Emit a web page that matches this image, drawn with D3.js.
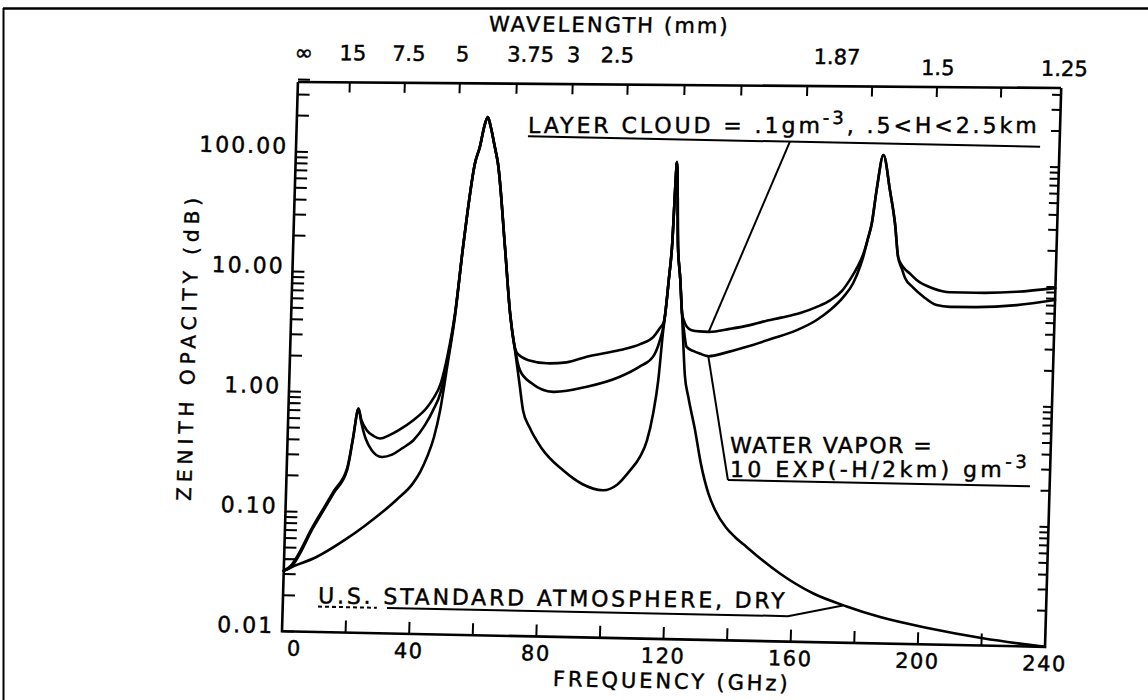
<!DOCTYPE html>
<html>
<head>
<meta charset="utf-8">
<script src="https://cdn.jsdelivr.net/npm/d3@7"></script>
<style>
  html, body { margin: 0; padding: 0; background: #fff; }
  svg { display: block; }
  text { font-family: "DejaVu Sans", sans-serif; fill: #000; stroke: #000; stroke-width: 0.45px; }
</style>
</head>
<body>
<script>
// ---------------- DATA ----------------
// Frequency axis ticks / labels (GHz)
const freqTickGHz = [20, 40, 60, 80, 100, 120, 140, 160, 180, 200, 220];
const freqLabelGHz = [0, 40, 80, 120, 160, 200, 240];

// Opacity axis labelled decades (dB)
const opacityLabelDb = [0.01, 0.1, 1, 10, 100];

// Top wavelength axis (labels and the hand-drawn tick positions, in GHz)
const wavelengthLabels = ["∞", "15", "7.5", "5", "3.75", "3", "2.5", "1.87", "1.5", "1.25"];
const wavelengthLabelGHz = [1.6, 17, 34.6, 51.5, 72.9, 86.4, 100.2, 169.3, 201.1, 240.9];
const wavelengthTickGHz = [16.3, 33.6, 50.9, 68.8, 86.4, 103.7, 121.6, 139.5, 160.2, 180.6, 201.0, 221.2];

// U.S. Standard Atmosphere, dry
const dryGHz = [0, 2, 10, 19.6, 25, 30, 35, 39.8, 42, 44, 46, 47.7, 49.5, 51.5, 53.4, 56.4, 57.8, 59, 60, 61, 62.5, 63.6, 66.6, 68.8, 71, 72.4, 73.75, 76, 80, 86.9, 93, 99.6, 104, 107.9, 111, 113, 114.7, 116, 117.1, 117.6, 118.4, 119.1, 119.9, 121.0, 122.0, 122.85, 123.5, 124.3, 125.6, 128, 130.2, 132.8, 135, 138.5, 141.5, 145.3, 150, 156, 166.7, 177.3, 187.9, 203.7, 220.4, 240];
const dryDb = [0.032, 0.034, 0.042, 0.061, 0.078, 0.1, 0.132, 0.18, 0.225, 0.3, 0.44, 0.74, 1.7, 4.5, 17, 86, 118, 175, 210, 175, 118, 87, 17.3, 4.9, 2.15, 1.27, 0.765, 0.55, 0.37, 0.245, 0.19, 0.17, 0.19, 0.25, 0.33, 0.45, 0.76, 1.44, 3.76, 5.2, 10, 18.6, 95, 18.6, 10, 5.25, 3.0, 1.6, 1.05, 0.56, 0.29, 0.166, 0.122, 0.088, 0.073, 0.0605, 0.048, 0.0368, 0.0254, 0.0201, 0.0166, 0.0136, 0.0115, 0.01];

// With water vapour = 10 exp(-H/2km) g m^-3
const vaporGHz = [0, 2, 9, 15, 19, 20.5, 22, 23, 24.5, 26.55, 29.75, 33, 36, 39.5, 43, 45.5, 47.7, 49.5, 51.5, 53.4, 56.4, 57.8, 59, 60, 61, 62.5, 63.6, 66.6, 68.8, 70.5, 72.4, 76, 83.1, 93.6, 103.9, 110, 114.1, 116, 117.2, 117.6, 118.4, 119.1, 119.9, 121.0, 122.0, 122.85, 123.6, 124.6, 126.7, 129, 131.5, 137, 143.5, 151, 159.1, 165, 169.4, 173.4, 176.4, 178.3, 179.3, 180.6, 181.7, 182.9, 184.7, 187.1, 189.0, 190.3, 191.5, 192.6, 195.2, 198.6, 202.8, 207, 215, 228, 240];
const vaporDb = [0.032, 0.034, 0.075, 0.145, 0.226, 0.40, 0.74, 0.57, 0.42, 0.335, 0.295, 0.31, 0.35, 0.41, 0.55, 0.74, 1.05, 1.9, 4.65, 17, 86, 118, 175, 210, 175, 118, 87, 17.3, 4.9, 2.6, 1.65, 1.3, 1.10, 1.23, 1.51, 1.85, 2.24, 3.0, 4.2, 5.2, 10, 18.6, 95, 18.6, 10, 5.25, 3.8, 2.75, 2.55, 2.42, 2.32, 2.5, 2.82, 3.3, 3.96, 4.8, 5.9, 7.6, 10.0, 13.5, 16.6, 23.5, 31.7, 60, 118, 60, 31.7, 16.6, 13.5, 11.3, 9.4, 7.9, 6.77, 6.57, 6.6, 6.97, 7.8];

// With layer cloud = .1 g m^-3, .5<H<2.5 km
const cloudGHz = [0, 2, 9, 15, 19, 20.5, 22, 23, 24.8, 27, 29.05, 32, 35, 39.35, 43.6, 45.5, 47.7, 49.5, 51.5, 53.4, 56.4, 57.8, 59, 60, 61, 62.5, 63.6, 66.6, 68.8, 70, 71.35, 75, 80.8, 87, 93.3, 103.7, 110, 114, 116, 117.2, 117.6, 118.4, 119.1, 119.9, 121.0, 122.0, 122.85, 123.6, 124.5, 126, 128.5, 131.4, 138, 144.3, 148.4, 154, 160, 165, 169.3, 173, 175.5, 177.5, 179.3, 180.6, 181.7, 182.9, 184.7, 187.1, 189.0, 190.3, 192, 194.2, 196.3, 201.6, 206.9, 215, 227.9, 240];
const cloudDb = [0.032, 0.035, 0.078, 0.15, 0.235, 0.41, 0.74, 0.60, 0.49, 0.44, 0.42, 0.45, 0.5, 0.605, 0.78, 0.93, 1.25, 2.1, 4.8, 17, 86, 118, 175, 210, 175, 118, 87, 17.3, 4.9, 3.0, 2.28, 2.0, 1.9, 1.95, 2.19, 2.52, 2.85, 3.27, 3.9, 4.4, 5.2, 10, 18.6, 95, 18.6, 10, 5.25, 4.5, 4.04, 3.8, 3.72, 3.70, 3.95, 4.28, 4.6, 5.0, 5.5, 6.2, 7.1, 8.6, 10.8, 13.5, 17.5, 23.5, 31.7, 60, 118, 60, 31.7, 16.6, 13.8, 12.2, 10.85, 9.3, 8.7, 8.7, 9.0, 9.8];

// Annotation anchors in data units [GHz, dB]
const cloudNoteText = [72.8, 156.7];
const cloudNoteRule = [[72.8, 147], [233.9, 147]];
const cloudNoteLeader = [[155.2, 147], [131.4, 3.70]];
const vaporNoteLine1 = [139.2, 0.3634];
const vaporNoteLine2 = [139.4, 0.229];
const vaporNoteRule = [[138.8, 0.217], [233.8, 0.217]];
const vaporNoteLeader = [[138.8, 0.217], [131.5, 2.32]];
const dryNoteText = [11.06, 0.01734];
const dryNoteRuleDashed = [[11.1, 0.0163], [29.6, 0.0163]];
const dryNoteRule = [[32.8, 0.0163], [158.9, 0.0163], [176.1, 0.0204]];

// ---------------- DRAWING ----------------
const W = 1148, H = 700;
const PW = 764, PH = 550;
const svg = d3.select("body").append("svg").attr("width", W).attr("height", H);
svg.append("rect").attr("width", W).attr("height", H).attr("fill", "#fff");

// scanned page border
svg.append("line").attr("x1", 3).attr("x2", W).attr("y1", 8.5).attr("y2", 8.5)
  .attr("stroke", "#000").attr("stroke-width", 2.5);
svg.append("line").attr("x1", 3.5).attr("x2", 3.5).attr("y1", 8).attr("y2", H)
  .attr("stroke", "#000").attr("stroke-width", 2);

const x = d3.scaleLinear().domain([0, 240]).range([0, PW]);
const y = d3.scaleLog().domain([0.01, 400]).range([PH, 0]);

// the scanned plot is slightly skewed: reproduce with an affine transform
const g = svg.append("g").attr("transform", "matrix(0.9987,0.0203,-0.0291,1.0033,298,79.5)");
const tg = svg.append("g").attr("transform", "matrix(0.9987,0.0079,-0.0291,1.0033,298,82)");

const SW = 2.6;

// frame (left, bottom, right) in the plot group
g.append("path").attr("d", `M0,2.5V${PH}H${PW}V-7`)
  .attr("fill", "none").attr("stroke", "#000").attr("stroke-width", SW)
  .attr("stroke-linejoin", "miter");

// log ticks left & right
const yt = y.ticks();
g.append("g").selectAll("line").data(yt).join("line")
  .attr("x1", 0).attr("x2", 12).attr("y1", d => y(d)).attr("y2", d => y(d))
  .attr("stroke", "#000").attr("stroke-width", 2);
g.append("g").selectAll("line").data(yt).join("line")
  .attr("x1", PW).attr("x2", PW - 9).attr("y1", d => y(d)).attr("y2", d => y(d))
  .attr("stroke", "#000").attr("stroke-width", 2);

// y labels
const fmt = d3.format(".2f");
g.append("g").selectAll("text").data(opacityLabelDb).join("text")
  .attr("x", -8).attr("y", d => y(d) + 2)
  .attr("text-anchor", "end").attr("font-size", 22).attr("letter-spacing", 2)
  .text(d => fmt(d));

// bottom ticks & labels
g.append("g").selectAll("line").data(freqTickGHz).join("line")
  .attr("x1", d => x(d)).attr("x2", d => x(d)).attr("y1", PH).attr("y2", PH - 12)
  .attr("stroke", "#000").attr("stroke-width", 2);
g.append("g").selectAll("text").data(freqLabelGHz).join("text")
  .attr("x", d => x(d) + (d === 0 ? 13 : 0)).attr("y", PH + 24)
  .attr("text-anchor", "middle").attr("font-size", 21).attr("letter-spacing", 1.5)
  .text(d => d);

// axis titles
g.append("text").attr("x", 390).attr("y", PH + 49).attr("text-anchor", "middle")
  .attr("font-size", 21).attr("textLength", 235).attr("lengthAdjust", "spacing")
  .text("FREQUENCY (GHz)");
g.append("text").attr("transform", "translate(-95,271) rotate(-90)")
  .attr("text-anchor", "middle").attr("font-size", 20)
  .attr("textLength", 302).attr("lengthAdjust", "spacing")
  .text("ZENITH OPACITY (dB)");

// top wavelength axis
tg.append("line").attr("x1", 0).attr("x2", PW).attr("y1", 0).attr("y2", 0)
  .attr("stroke", "#000").attr("stroke-width", SW);
tg.append("g").selectAll("line").data(wavelengthTickGHz).join("line")
  .attr("x1", d => x(d)).attr("x2", d => x(d)).attr("y1", 0).attr("y2", 10)
  .attr("stroke", "#000").attr("stroke-width", 2);
const lowerLabels = new Set(["1.5", "1.25"]);
tg.append("g").selectAll("text").data(wavelengthLabels).join("text")
  .attr("x", (d, i) => x(wavelengthLabelGHz[i]))
  .attr("y", d => lowerLabels.has(d) ? -12 : -22)
  .attr("text-anchor", "middle").attr("font-size", d => d === "∞" ? 22 : 21)
  .text(d => d);
tg.append("text").attr("x", 309).attr("y", -52).attr("text-anchor", "middle")
  .attr("font-size", 21).attr("textLength", 239).attr("lengthAdjust", "spacing")
  .text("WAVELENGTH (mm)");

// curves
const line = d3.line().x(d => x(d[0])).y(d => y(d[1])).curve(d3.curveMonotoneX);
const series = [
  d3.zip(dryGHz, dryDb),
  d3.zip(vaporGHz, vaporDb),
  d3.zip(cloudGHz, cloudDb)
];
g.append("g").selectAll("path").data(series).join("path")
  .attr("d", line).attr("fill", "none").attr("stroke", "#000")
  .attr("stroke-width", 2.6).attr("stroke-linejoin", "round").attr("stroke-linecap", "round");

// annotations
const seg = d3.line().x(d => x(d[0])).y(d => y(d[1]));
function rule(pts, dash) {
  g.append("path").attr("d", seg(pts)).attr("fill", "none").attr("stroke", "#000")
    .attr("stroke-width", 2).attr("stroke-dasharray", dash || null);
}
rule(cloudNoteRule); rule(cloudNoteLeader);
rule(vaporNoteRule); rule(vaporNoteLeader);
rule(dryNoteRuleDashed, "4,3"); rule(dryNoteRule);

function note(at, tilt, len, parts) {
  const px = x(at[0]), py = y(at[1]);
  const t = g.append("text").attr("x", px).attr("y", py)
    .attr("transform", `rotate(${tilt},${px},${py})`)
    .attr("font-size", 22).attr("textLength", len).attr("lengthAdjust", "spacing");
  parts.forEach(p => {
    const s = t.append("tspan").text(p.t);
    if (p.dy) s.attr("dy", p.dy);
    if (p.fs) s.attr("font-size", p.fs);
  });
}
note(cloudNoteText, -1.16, 509, [
  { t: "LAYER CLOUD = .1gm" },
  { t: "-3", dy: -9, fs: 18 },
  { t: ",  .5<H<2.5km", dy: 9 }
]);
note(vaporNoteLine1, -1.16, 202, [{ t: "WATER VAPOR =" }]);
note(vaporNoteLine2, -1.16, 297, [
  { t: "10 EXP(-H/2km) gm" },
  { t: "-3", dy: -9, fs: 18 }
]);
note(dryNoteText, -0.55, 467, [{ t: "U.S.  STANDARD ATMOSPHERE, DRY" }]);
</script>
</body>
</html>
